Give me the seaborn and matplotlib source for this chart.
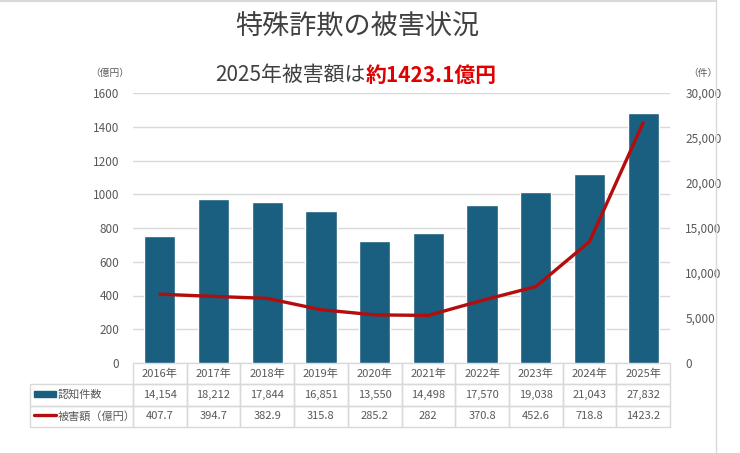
import matplotlib.pyplot as plt
import numpy as np
import seaborn as sns
from matplotlib.table import Table
from matplotlib.lines import Line2D
from matplotlib.patches import Rectangle

# data
years = ["2016年", "2017年", "2018年", "2019年", "2020年",
         "2021年", "2022年", "2023年", "2024年", "2025年"]
counts = [14154, 18212, 17844, 16851, 13550, 14498, 17570, 19038, 21043, 27832]
damage = [407.7, 394.7, 382.9, 315.8, 285.2, 282, 370.8, 452.6, 718.8, 1423.2]
damage_labels = ["407.7", "394.7", "382.9", "315.8", "285.2",
                 "282", "370.8", "452.6", "718.8", "1423.2"]
row_names = ["認知件数", "被害額（億円）"]

BAR = "#1a5f7f"
LINE = "#b30d0d"
GREY = "#595959"
EDGE = "#d9d9d9"

sns.set_style("white")
plt.rcParams["font.family"] = ["Noto Sans CJK JP", "DejaVu Sans"]

W, H = 740, 453
fig = plt.figure(figsize=(W / 100, H / 100), dpi=100)

def fx(x):
    return x / W

def fy(y):
    return 1 - y / H

# plot area in pixels: x 133-670, y 93-363
ax = fig.add_axes([fx(133), fy(363), (670 - 133) / W, (363 - 93) / H])
ax2 = ax.twinx()
ax3 = ax.twinx()
ax.set_zorder(1)
ax2.set_zorder(2)
ax3.set_zorder(3)
for a in (ax2, ax3):
    a.patch.set_visible(False)

# left axis: damage scale, gridlines
ax.set_ylim(0, 1600)
ax.set_yticks(np.arange(0, 1601, 200))
ax.grid(axis="y", color=EDGE, linewidth=1)
ax.tick_params(axis="y", length=0, labelsize=8.5, labelcolor=GREY, pad=10)
ax.tick_params(axis="x", length=0, labelbottom=False)

# bars on right axis (counts)
sns.barplot(x=years, y=counts, ax=ax2, color=BAR, width=0.58, saturation=1)
ax2.set_ylim(0, 30000)
ax2.set_yticks(np.arange(0, 30001, 5000))
ax2.set_yticklabels([f"{v:,}" for v in range(0, 30001, 5000)])
ax2.tick_params(axis="y", length=0, labelsize=8.5, labelcolor=GREY, pad=11)
ax2.tick_params(axis="x", length=0, labelbottom=False)
ax2.set_xlabel("")
ax2.set_ylabel("")

# line on top (damage scale)
sns.lineplot(x=np.arange(len(years)), y=damage, ax=ax3, color=LINE, linewidth=2.4)
ax3.set_ylim(0, 1600)
ax3.set_xlim(-0.5, len(years) - 0.5)
ax3.axis("off")
ax.set_xlim(-0.5, len(years) - 0.5)
ax2.set_xlim(-0.5, len(years) - 0.5)

for a in (ax, ax2, ax3):
    for s in a.spines.values():
        s.set_visible(False)

# data table under the plot
col_w = (670 - 133) / len(years)
tbl = Table(ax, bbox=[(30 - 133) / 537, -64 / 270, 640 / 537, 64 / 270])
rows = [[f"{c:,}" for c in counts], damage_labels]
for j, yr in enumerate(years):
    c = tbl.add_cell(0, j + 1, width=col_w, height=1, text=yr, loc="center",
                     edgecolor=EDGE, facecolor="none")
    c.get_text().set_color(GREY)
    c.get_text().set_fontsize(8)
for i, vals in enumerate(rows):
    c = tbl.add_cell(i + 1, 0, width=103, height=1, text="", loc="left",
                     edgecolor=EDGE, facecolor="none")
    for j, v in enumerate(vals):
        c = tbl.add_cell(i + 1, j + 1, width=col_w, height=1, text=v, loc="center",
                         edgecolor=EDGE, facecolor="none")
        c.get_text().set_color(GREY)
        c.get_text().set_fontsize(8)
tbl.auto_set_font_size(False)
ax.add_table(tbl)

# row names with legend keys
fig.text(fx(58), fy(394), row_names[0], color=GREY, fontsize=8, va="center")
fig.text(fx(58), fy(416), row_names[1], color=GREY, fontsize=8, va="center")
fig.patches.append(Rectangle((fx(34), fy(397)), fx(22), 6 / H, color=BAR,
                             transform=fig.transFigure, figure=fig))
fig.lines.append(Line2D([fx(34), fx(56)], [fy(415), fy(415)], color=LINE,
                        linewidth=2.4, transform=fig.transFigure, figure=fig))

# titles
fig.text(fx(357), fy(27), "特殊詐欺の被害状況", ha="center", va="center",
         fontsize=19.5, color="#404040")
fig.text(fx(366), fy(75), "2025年被害額は", ha="right", va="center",
         fontsize=15, color="#404040")
fig.text(fx(366), fy(75), "約1423.1億円", ha="left", va="center",
         fontsize=15, color="#e00000", fontweight="bold")

# axis units
fig.text(fx(110), fy(73), "（億円）", ha="center", va="center", fontsize=7, color=GREY)
fig.text(fx(703), fy(73), "（件）", ha="center", va="center", fontsize=7, color=GREY)

# frame lines of the original screenshot
fig.lines.append(Line2D([fx(716), fx(716)], [0, 1], color=EDGE, linewidth=1,
                        transform=fig.transFigure, figure=fig))
fig.lines.append(Line2D([0, fx(716)], [fy(1), fy(1)], color=EDGE, linewidth=1.5,
                        transform=fig.transFigure, figure=fig))

fig.savefig("out.png", dpi=100)
